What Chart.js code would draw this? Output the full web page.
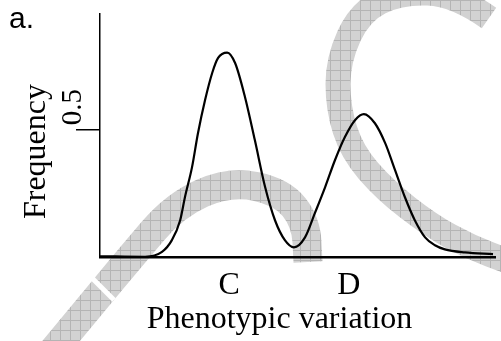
<!DOCTYPE html>
<html>
<head>
<meta charset="utf-8">
<script src="https://cdn.jsdelivr.net/npm/chart.js@4.4.1/dist/chart.umd.min.js"></script>
<style>
  html, body { margin: 0; padding: 0; background: #fff; }
  #wrap { width: 501px; height: 341px; position: relative; }
</style>
</head>
<body>
<div id="wrap"><canvas id="grafico"></canvas></div>
<script>
// curve: position along the phenotype axis (0-100) and frequency
var phenotype = [0, 11.4, 15.7, 18.2, 20.3, 21.5, 23.3, 24.8, 26.6, 28.4, 29.9, 32.2, 34.2, 36.7, 39.2, 41.8, 44.3, 46.8, 49.1, 51.9, 54.4, 57.0, 59.5, 62.0, 64.6, 66.8, 69.6, 72.2, 74.7, 77.2, 79.7, 82.3, 84.8, 87.3, 92.4, 99.5];
var frequency = [0.003, 0.001, 0.020, 0.066, 0.144, 0.234, 0.352, 0.485, 0.615, 0.721, 0.780, 0.801, 0.760, 0.627, 0.458, 0.274, 0.144, 0.066, 0.038, 0.077, 0.172, 0.274, 0.380, 0.470, 0.537, 0.560, 0.524, 0.446, 0.340, 0.234, 0.144, 0.077, 0.046, 0.030, 0.018, 0.011];
var xTickValues = [32.7, 63.0];
var xTickLabels = ["C", "D"];
var yTickValues = [0.5];
var yTickLabels = ["0.5"];
var panelLabel = "a.";
var xTitle = "Phenotypic variation";
var yTitle = "Frequency";

var serif = "'Liberation Serif', 'Times New Roman', serif";

// grey checkered watermark behind the plot
function smoothPath(c, pts) {
    c.moveTo(pts[0][0], pts[0][1]);
    for (var i = 1; i < pts.length - 1; i++) {
        var mx = (pts[i][0] + pts[i + 1][0]) / 2, my = (pts[i][1] + pts[i + 1][1]) / 2;
        c.quadraticCurveTo(pts[i][0], pts[i][1], mx, my);
    }
    var last = pts[pts.length - 1];
    c.lineTo(last[0], last[1]);
}

var watermark = {
    id: "watermark",
    beforeDraw: function (chart) {
        var c = chart.ctx;
        var tile = document.createElement("canvas");
        tile.width = 10; tile.height = 10;
        var t = tile.getContext("2d");
        t.fillStyle = "#d2d2d2"; t.fillRect(0, 0, 10, 10);
        t.fillStyle = "#b4b4b4"; t.fillRect(0, 0, 10, 1); t.fillRect(0, 0, 1, 10);
        var pat = c.createPattern(tile, "repeat");
        c.save();
        c.strokeStyle = pat;
        c.lineCap = "butt";
        c.lineJoin = "round";
        c.lineWidth = 29;
        c.beginPath();
        smoothPath(c, [[52, 352], [95, 300], [130, 258], [175, 205], [230, 181], [282, 192], [306, 222], [308, 262]]);
        c.stroke();
        c.lineWidth = 25;
        c.beginPath();
        smoothPath(c, [[489, 18], [455, -6], [400, -8], [360, 12], [338, 60], [338, 108], [352, 152], [385, 190], [430, 225], [470, 247], [510, 262]]);
        c.stroke();
        c.strokeStyle = "#fff";
        c.lineWidth = 5;
        c.beginPath();
        c.moveTo(82, 268); c.lineTo(114, 300);
        c.stroke();
        c.restore();
    }
};

var labels = {
    id: "labels",
    afterDraw: function (chart) {
        var c = chart.ctx;
        var y = chart.scales.y;
        c.save();
        c.fillStyle = "#000";
        c.font = "30px 'Liberation Sans', Arial, sans-serif";
        c.textAlign = "left";
        c.textBaseline = "alphabetic";
        c.fillText(panelLabel, 9, 28);

        c.font = "29px " + serif;
        yTickValues.forEach(function (v, i) {
            c.save();
            c.translate(81, y.getPixelForValue(v) - 4);
            c.rotate(-Math.PI / 2);
            c.textAlign = "left";
            c.fillText(yTickLabels[i], 0, 0);
            c.restore();
        });

        c.font = "32px " + serif;
        c.save();
        c.translate(45, 151.5);
        c.rotate(-Math.PI / 2);
        c.textAlign = "center";
        c.fillText(yTitle, 0, 0);
        c.restore();

        c.textAlign = "center";
        c.fillText(xTitle, 279.5, 328);
        c.restore();
    }
};

var ctx = document.getElementById("grafico");
if (ctx) {
    ctx = ctx.getContext("2d");
    new Chart(ctx, {
        type: "line",
        data: {
            datasets: [{
                data: phenotype.map(function (x, i) { return { x: x, y: frequency[i] }; }),
                borderColor: "#000",
                borderWidth: 2.2,
                pointRadius: 0,
                fill: false,
                cubicInterpolationMode: "monotone"
            }]
        },
        options: {
            responsive: true,
            maintainAspectRatio: false,
            animation: false,
            layout: { padding: { left: 0, top: 14, right: 6, bottom: 0 } },
            plugins: { legend: { display: false }, tooltip: { enabled: false } },
            scales: {
                x: {
                    type: "linear",
                    min: 0,
                    max: 100,
                    afterFit: function (s) { s.height = 84; },
                    afterBuildTicks: function (s) {
                        s.ticks = xTickValues.map(function (v) { return { value: v }; });
                    },
                    grid: { display: false, drawTicks: false },
                    border: { display: true, color: "#000", width: 2.5 },
                    ticks: {
                        autoSkip: false,
                        maxRotation: 0,
                        padding: 9,
                        color: "#000",
                        font: { family: serif, size: 32 },
                        callback: function (v, i) { return xTickLabels[i]; }
                    }
                },
                y: {
                    min: 0,
                    max: 0.952,
                    afterFit: function (s) { s.width = 100; },
                    afterBuildTicks: function (s) {
                        s.ticks = yTickValues.map(function (v) { return { value: v }; });
                    },
                    grid: { drawOnChartArea: false, drawTicks: true, tickLength: 24, color: "#000", lineWidth: 1.5 },
                    border: { display: true, color: "#000", width: 1.5 },
                    ticks: { display: false }
                }
            }
        },
        plugins: [watermark, labels]
    });
} else {
    console.error("canvas not found");
}
</script>
</body>
</html>
